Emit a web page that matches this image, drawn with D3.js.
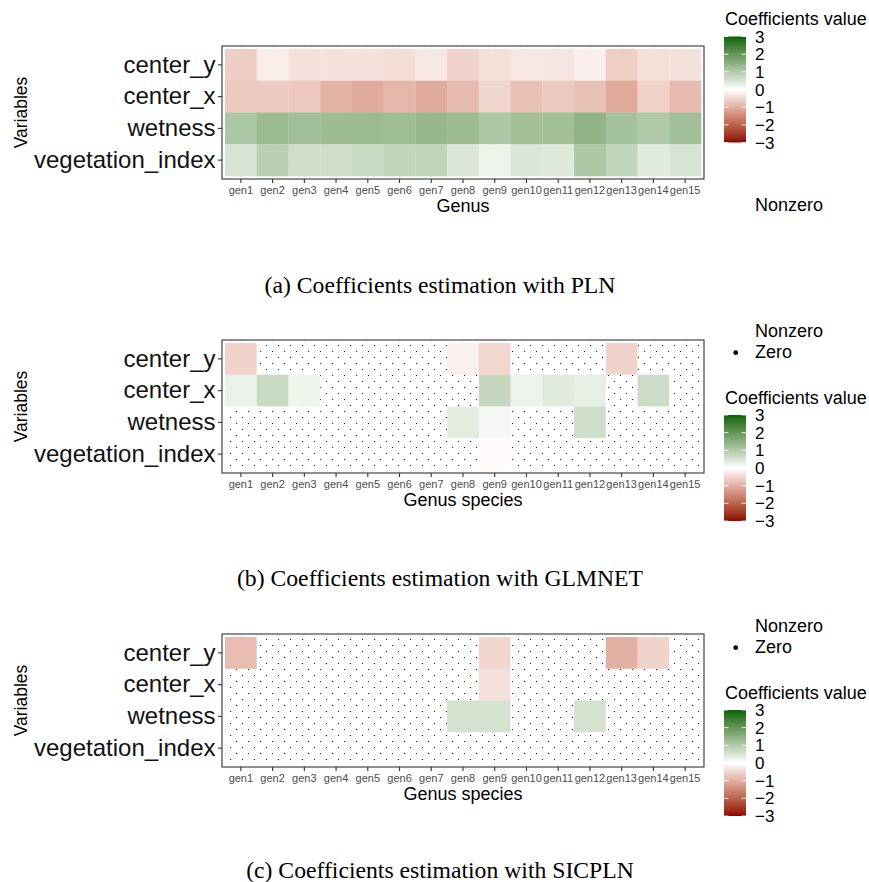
<!DOCTYPE html>
<html>
<head>
<meta charset="utf-8">
<script src="https://cdn.jsdelivr.net/npm/d3@7"></script>
<style>
  body { margin: 0; background: #fff; }
  svg { display: block; }
</style>
</head>
<body>
<svg id="chart" width="869" height="882"></svg>
<script>
// ---------------- DATA ----------------
const genus = ["gen1","gen2","gen3","gen4","gen5","gen6","gen7","gen8","gen9","gen10","gen11","gen12","gen13","gen14","gen15"];
const variables = ["center_y","center_x","wetness","vegetation_index"];
const legendTicks = [3, 2, 1, 0, -1, -2, -3];
const colorLimits = [-3, 3];

// (a) PLN
const plnCenterY  = [-0.63,-0.22,-0.38,-0.36,-0.36,-0.42,-0.30,-0.55,-0.40,-0.30,-0.33,-0.20,-0.62,-0.40,-0.38];
const plnCenterX  = [-0.66,-0.65,-0.70,-0.96,-1.05,-0.91,-1.06,-0.86,-0.52,-0.80,-0.68,-0.77,-1.08,-0.57,-0.85];
const plnWetness  = [1.06,1.30,1.22,1.27,1.30,1.25,1.35,1.30,1.04,1.20,1.20,1.42,1.18,1.03,1.21];
const plnVegIndex = [0.50,0.90,0.62,0.60,0.69,0.79,0.80,0.45,0.23,0.47,0.42,1.04,0.79,0.38,0.49];

// (b) GLMNET (0 = coefficient set to zero)
const glmCenterY  = [-0.55,0,0,0,0,0,0,-0.18,-0.50,0,0,0,-0.55,0,0];
const glmCenterX  = [0.25,0.68,0.20,0,0,0,0,0,0.74,0.23,0.39,0.30,0,0.65,0];
const glmWetness  = [0,0,0,0,0,0,0,0.36,0.14,0,0,0.62,0,0,0];
const glmVegIndex = [0,0,0,0,0,0,0,0,-0.05,0,0,0,0,0,0];

// (c) SICPLN
const sicCenterY  = [-0.84,0,0,0,0,0,0,0,-0.52,0,0,0,-1.00,-0.54,0];
const sicCenterX  = [0,0,0,0,0,0,0,0,-0.37,0,0,0,0,0,0];
const sicWetness  = [0,0,0,0,0,0,0,0.55,0.55,0,0,0.55,0,0,0];
const sicVegIndex = [0,0,0,0,0,0,0,0,0,0,0,0,0,0,0];

// ---------------- CHART ----------------
const svg = d3.select("#chart");
const SANS = "'Liberation Sans', Arial, Helvetica, sans-serif";
const SERIF = "'Liberation Serif', 'Times New Roman', serif";

const color = d3.scaleLinear()
  .domain([colorLimits[0], 0, colorLimits[1]])
  .range(["#8B0000", "#ffffff", "#006400"])
  .interpolate(d3.interpolateLab)
  .clamp(true);

const defs = svg.append("defs");

// gradient for legend bar (top = +3)
const grad = defs.append("linearGradient").attr("id", "cbar")
  .attr("x1", 0).attr("y1", 0).attr("x2", 0).attr("y2", 1);
d3.range(0, 61).forEach(i => {
  const t = i / 60;
  const v = colorLimits[1] - t * (colorLimits[1] - colorLimits[0]);
  grad.append("stop").attr("offset", t).attr("stop-color", color(v));
});

const panels = [
  { top: 49,  rows: [plnCenterY, plnCenterX, plnWetness, plnVegIndex], xTitle: "Genus",
    caption: "(a) Coefficients estimation with PLN", capY: 293, sparse: false },
  { top: 343, rows: [glmCenterY, glmCenterX, glmWetness, glmVegIndex], xTitle: "Genus species",
    caption: "(b) Coefficients estimation with GLMNET", capY: 586, sparse: true },
  { top: 637, rows: [sicCenterY, sicCenterX, sicWetness, sicVegIndex], xTitle: "Genus species",
    caption: "(c) Coefficients estimation with SICPLN", capY: 878, sparse: true }
];

const tileLeft = 225, tileRight = 701, tileH = 127, pad = 3;

panels.forEach((p, pi) => {
  const x = d3.scaleBand().domain(genus).range([tileLeft, tileRight]).padding(0);
  const y = d3.scaleBand().domain(variables).range([p.top, p.top + tileH]).padding(0);
  const g = svg.append("g");

  const bx0 = tileLeft - pad, bx1 = tileRight + pad, by0 = p.top - pad, by1 = p.top + tileH + pad;

  // dot pattern for zero cells
  const patId = "dots" + pi;
  const pat = defs.append("pattern").attr("id", patId)
    .attr("patternUnits", "userSpaceOnUse")
    .attr("width", 12).attr("height", 12)
    .attr("patternTransform", `translate(${tileLeft + 5},${p.top + 2})`);
  pat.append("rect").attr("width", 12).attr("height", 12).attr("fill", "#fff");
  pat.append("rect").attr("x", 0).attr("y", 0).attr("width", 1.1).attr("height", 1.1).attr("fill", "#222");
  pat.append("rect").attr("x", 6).attr("y", 6).attr("width", 1.1).attr("height", 1.1).attr("fill", "#222");

  // panel background + grid
  g.append("rect").attr("x", bx0).attr("y", by0).attr("width", bx1 - bx0).attr("height", by1 - by0).attr("fill", "#fff");
  genus.forEach(d => {
    g.append("line").attr("x1", x(d) + x.bandwidth() / 2).attr("x2", x(d) + x.bandwidth() / 2)
      .attr("y1", by0).attr("y2", by1).attr("stroke", "#ebebeb").attr("stroke-width", 1);
  });
  variables.forEach(d => {
    g.append("line").attr("y1", y(d) + y.bandwidth() / 2).attr("y2", y(d) + y.bandwidth() / 2)
      .attr("x1", bx0).attr("x2", bx1).attr("stroke", "#ebebeb").attr("stroke-width", 1);
  });

  // tiles
  const cells = [];
  variables.forEach((v, ri) => genus.forEach((gname, ci) => cells.push({ v, g: gname, val: p.rows[ri][ci] })));
  g.selectAll("rect.tile").data(cells).join("rect").attr("class", "tile")
    .attr("x", d => x(d.g)).attr("y", d => y(d.v))
    .attr("width", x.bandwidth() + 0.3).attr("height", y.bandwidth() + 0.3)
    .attr("fill", d => (p.sparse && d.val === 0) ? `url(#${patId})` : color(d.val));

  // border
  g.append("rect").attr("x", bx0).attr("y", by0).attr("width", bx1 - bx0).attr("height", by1 - by0)
    .attr("fill", "none").attr("stroke", "#333").attr("stroke-width", 1.1);

  // axes
  const xAxis = g.append("g").attr("transform", `translate(0,${by1})`)
    .call(d3.axisBottom(x).tickSize(4).tickPadding(3.2));
  xAxis.select(".domain").remove();
  xAxis.selectAll(".tick line").attr("stroke", "#333").attr("stroke-width", 1.1);
  xAxis.selectAll(".tick text").attr("font-family", SANS).attr("font-size", 11)
    .style("fill", "#4d4d4d");

  const yAxis = g.append("g").attr("transform", `translate(${bx0},0)`)
    .call(d3.axisLeft(y).tickSize(4).tickPadding(2.5));
  yAxis.select(".domain").remove();
  yAxis.selectAll(".tick line").attr("stroke", "#333").attr("stroke-width", 1.1);
  yAxis.selectAll(".tick text").attr("font-family", SANS).attr("font-size", 24).style("fill", "#111");

  // axis titles
  g.append("text").attr("x", (bx0 + bx1) / 2).attr("y", p.top + 163)
    .attr("text-anchor", "middle").attr("font-family", SANS).attr("font-size", 18).attr("fill", "#000")
    .text(p.xTitle);
  g.append("text").attr("transform", `translate(27,${p.top + tileH / 2}) rotate(-90)`)
    .attr("text-anchor", "middle").attr("font-family", SANS).attr("font-size", 17.5).attr("fill", "#000")
    .text("Variables");

  // caption
  g.append("text").attr("x", 440).attr("y", p.capY).attr("text-anchor", "middle")
    .attr("font-family", SERIF).attr("font-size", 23.7).attr("fill", "#000").text(p.caption);

  // legends
  const lg = svg.append("g").attr("font-family", SANS).attr("font-size", 18).attr("fill", "#000");
  let barTop, titleY;
  if (!p.sparse) {
    titleY = 25; barTop = 36.5;
    lg.append("text").attr("x", 755).attr("y", 211).text("Nonzero");
  } else {
    const off = pi === 1 ? 0 : 295;
    lg.append("text").attr("x", 755).attr("y", 336.5 + off).text("Nonzero");
    lg.append("circle").attr("cx", 735.7).attr("cy", 352.7 + off).attr("r", 2.4).attr("fill", "#000");
    lg.append("text").attr("x", 755).attr("y", 358 + off).text("Zero");
    titleY = 403.5 + off; barTop = 415 + off;
  }
  lg.append("text").attr("x", 725).attr("y", titleY).text("Coefficients value");
  const barH = 106, barX = 724, barW = 22;
  const ly = d3.scaleLinear().domain(colorLimits).range([barTop + barH, barTop]);
  lg.append("rect").attr("x", barX).attr("y", barTop).attr("width", barW).attr("height", barH)
    .attr("fill", "url(#cbar)");
  legendTicks.forEach(t => {
    const yy = ly(t);
    lg.append("line").attr("x1", barX).attr("x2", barX + 4.4).attr("y1", yy).attr("y2", yy)
      .attr("stroke", "#fff").attr("stroke-width", 1).attr("stroke-opacity", 0.85);
    lg.append("line").attr("x1", barX + barW - 4.4).attr("x2", barX + barW).attr("y1", yy).attr("y2", yy)
      .attr("stroke", "#fff").attr("stroke-width", 1).attr("stroke-opacity", 0.85);
    lg.append("text").attr("x", 755).attr("y", yy + 6).attr("font-size", 17)
      .text(t < 0 ? "\u2212" + Math.abs(t) : String(t));
  });
});
</script>
</body>
</html>
